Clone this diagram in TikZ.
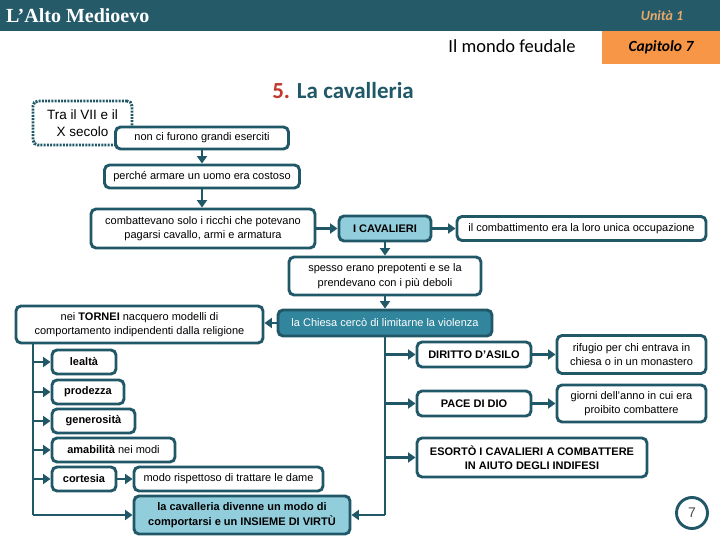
\documentclass[tikz,border=0pt]{standalone}
\usepackage{fontspec}
\setmainfont{Liberation Sans}
\newfontfamily\carl{Carlito}
\newfontfamily\serifb{Liberation Serif}
\usetikzlibrary{arrows.meta}
\definecolor{hdr}{HTML}{255A69}
\definecolor{bord}{HTML}{215868}
\definecolor{lblue}{HTML}{92CDDC}
\definecolor{tealf}{HTML}{31859C}
\definecolor{orng}{HTML}{F79646}
\definecolor{tanc}{HTML}{E8A96A}
\definecolor{redfive}{HTML}{C0392B}
\begin{document}
\begin{tikzpicture}[x=1pt,y=-1pt,
  box/.style={draw=bord, line width=2.9pt, rounded corners=5pt, fill=white, align=center,
    inner sep=0pt, font=\fontsize{11}{14.5}\selectfont, text=black},
  bbox/.style={box, font=\fontsize{11}{14.5}\selectfont\bfseries},
  arr/.style={draw=bord, line width=2.9pt, -{Triangle[width=10pt,length=7.5pt]}},
  ln/.style={draw=bord, line width=2.9pt},
  hdrtext/.style={inner sep=0pt}]
\useasboundingbox (0,0) rectangle (720,540);
\fill[white] (0,0) rectangle (720,540);
% header
\fill[hdr] (0,0) rectangle (720,31);
\node[hdrtext, anchor=west, text=white, font=\serifb\fontsize{20}{20}\selectfont\bfseries] (ttl) at (6,15.5) {L’Alto Medioevo};
\node[hdrtext, text=tanc, font=\carl\fontsize{14}{14}\selectfont\bfseries\itshape] (unit) at (662,15.5) {Unità 1};
\fill[orng] (602,31) rectangle (720,64);
\node[hdrtext, font=\carl\fontsize{15.5}{15.5}\selectfont\bfseries\itshape] (cap) at (661,47.5) {Capitolo 7};
\node[hdrtext, font=\carl\fontsize{18.5}{18.5}\selectfont] (mondo) at (512,46.5) {Il mondo feudale};
\node[hdrtext, font=\carl\fontsize{23}{23}\selectfont\bfseries, text=bord] (title) at (343,91) {\textcolor{redfive}{5.} La cavalleria};
% boxes
\node[box, dash pattern=on 2pt off 1.2pt, minimum width=99pt, minimum height=44pt, font=\fontsize{13.5}{16.5}\selectfont] (tra) at (82.5,123) {Tra il VII e il\\X secolo};
\node[box, minimum width=173pt, minimum height=22pt] (n1) at (202,138) {non ci furono grandi eserciti};
\node[box, minimum width=195pt, minimum height=23pt] (n2) at (202,176.5) {perché armare un uomo era costoso};
\node[box, minimum width=224pt, minimum height=39pt] (n3) at (203,228.5) {combattevano solo i ricchi che potevano\\pagarsi cavallo, armi e armatura};
\node[bbox, fill=lblue, minimum width=92pt, minimum height=25pt] (cav) at (385,228.5) {I CAVALIERI};
\node[box, minimum width=249pt, minimum height=24pt] (occ) at (581.5,228.5) {il combattimento era la loro unica occupazione};
\node[box, minimum width=192pt, minimum height=38pt] (spesso) at (385,276) {spesso erano prepotenti e se la\\prendevano con i più deboli};
\node[box, fill=tealf, text=white, minimum width=214pt, minimum height=26pt] (chiesa) at (385,323) {la Chiesa cercò di limitarne la violenza};
\node[box, minimum width=247pt, minimum height=37pt] (tornei) at (139.5,324.5) {nei \textbf{TORNEI} nacquero modelli di\\comportamento indipendenti dalla religione};
\node[bbox, minimum width=64pt, minimum height=24pt] (lealta) at (84,362) {lealtà};
\node[bbox, minimum width=72pt, minimum height=24pt] (prod) at (88,392) {prodezza};
\node[bbox, minimum width=83pt, minimum height=24pt] (gen) at (93.5,421) {generosità};
\node[box, minimum width=123pt, minimum height=24pt] (amab) at (113.5,450) {\textbf{amabilità} nei modi};
\node[bbox, minimum width=64pt, minimum height=24pt] (cort) at (84,479) {cortesia};
\node[box, minimum width=189pt, minimum height=24pt] (modo) at (228.5,479) {modo rispettoso di trattare le dame};
\node[bbox, fill=lblue, minimum width=216pt, minimum height=38pt] (final) at (242,515) {la cavalleria divenne un modo di\\comportarsi e un INSIEME DI VIRTÙ};
\node[bbox, minimum width=114pt, minimum height=25pt] (asilo) at (474,354.5) {DIRITTO D’ASILO};
\node[box, minimum width=149pt, minimum height=38pt] (rif) at (631.5,354.5) {rifugio per chi entrava in\\chiesa o in un monastero};
\node[bbox, minimum width=114pt, minimum height=25pt] (pace) at (474,403.5) {PACE DI DIO};
\node[box, minimum width=149pt, minimum height=37pt] (giorni) at (631.5,403.5) {giorni dell'anno in cui era\\proibito combattere};
\node[bbox, minimum width=230pt, minimum height=39pt] (esorto) at (532,457.5) {ESORTÒ I CAVALIERI A COMBATTERE\\IN AIUTO DEGLI INDIFESI};
\node[draw=bord, line width=2.9pt, circle, minimum size=31pt, inner sep=0pt, text=black!70, font=\fontsize{14}{14}\selectfont] (page) at (692,513) {7};
% connectors
\draw[arr] (n1.south) -- (n2.north);
\draw[arr] (n2.south) -- (n2.south |- n3.north);
\draw[arr] (n3.east) -- (cav.west);
\draw[arr] (cav.east) -- (occ.west);
\draw[arr] (cav.south) -- (spesso.north);
\draw[arr] (spesso.south) -- (chiesa.north);
\draw[arr] (chiesa.west) -- (chiesa.west -| tornei.east);
\coordinate (sl) at (33,515);
\draw[ln] (tornei.south -| sl) -- (sl);
\draw[arr] (sl) -- (final.west);
\draw[arr] (lealta.west -| sl) -- (lealta.west);
\draw[arr] (prod.west -| sl) -- (prod.west);
\draw[arr] (gen.west -| sl) -- (gen.west);
\draw[arr] (amab.west -| sl) -- (amab.west);
\draw[arr] (cort.west -| sl) -- (cort.west);
\draw[arr] (cort.east) -- (modo.west);
\draw[ln] (chiesa.south) -- (chiesa.south |- final.east);
\draw[arr] (chiesa.south |- final.east) -- (final.east);
\draw[arr] (asilo.west -| chiesa.south) -- (asilo.west);
\draw[arr] (pace.west -| chiesa.south) -- (pace.west);
\draw[arr] (esorto.west -| chiesa.south) -- (esorto.west);
\draw[arr] (asilo.east) -- (rif.west);
\draw[arr] (pace.east) -- (giorni.west);
\end{tikzpicture}
\end{document}
